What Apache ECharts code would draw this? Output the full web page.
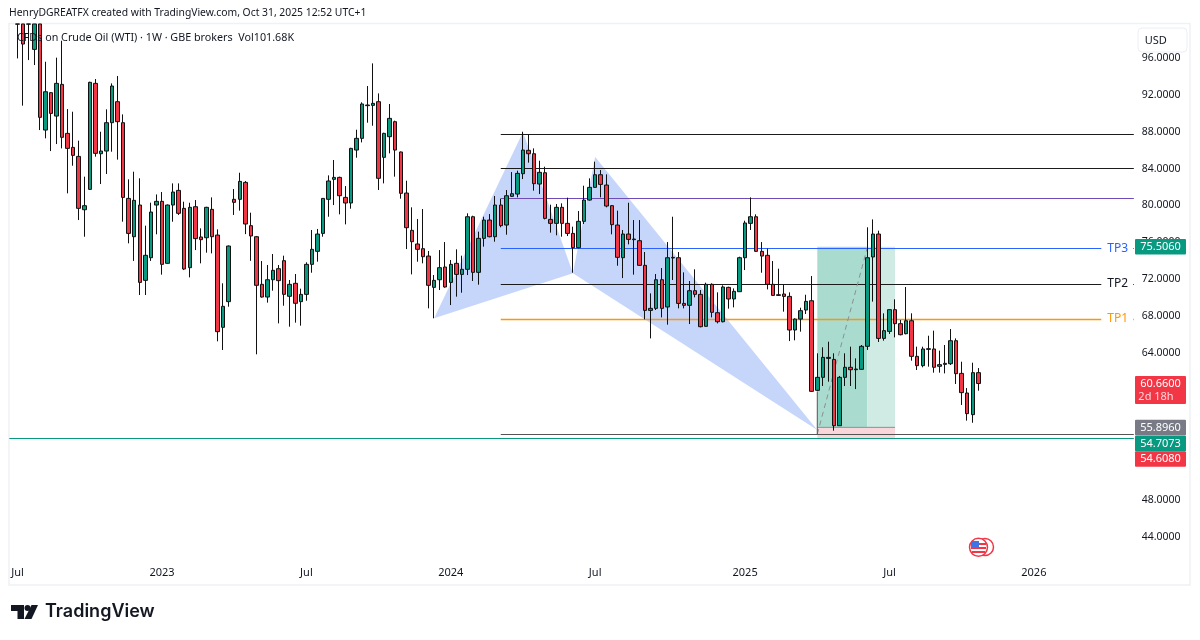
<!DOCTYPE html>
<html><head><meta charset="utf-8"><style>html,body{margin:0;padding:0;background:#fff}#c{width:1200px;height:640px}</style>
<script src="https://cdn.jsdelivr.net/npm/echarts@6/dist/echarts.min.js"></script></head><body><div id="c"></div>
<script>
const opens=[99.7,99.7,99.68,96.94,99.7,88.18,92.24,89.70,93.14,87.82,
86.30,85.32,79.53,81.74,93.25,85.61,85.90,88.98,91.26,88.98,
80.76,76.60,80.04,71.86,74.32,80.04,80.44,73.71,80.04,81.63,
79.68,73.24,79.86,76.57,76.49,79.57,76.78,66.76,69.55,80.66,
80.66,82.50,77.80,76.60,71.43,70.05,71.93,73.13,74.00,70.13,
71.54,69.55,70.34,73.60,75.01,76.96,80.66,82.83,83.04,80.87,
80.26,86.01,87.28,90.90,90.86,91.26,85.22,87.46,89.09,85.80,
81.34,77.29,75.81,75.30,74.50,71.10,71.93,73.31,71.64,73.71,
72.51,73.06,78.77,72.73,76.42,78.41,76.60,80.04,77.87,80.98,
81.23,83.44,85.98,85.61,82.32,83.55,78.48,78.05,79.79,78.05,
76.96,75.41,78.27,80.58,81.96,83.33,82.21,79.97,77.87,74.32,
76.89,76.35,76.17,73.49,68.60,68.82,71.93,68.97,74.36,74.32,
69.36,69.15,70.74,70.34,66.87,71.43,68.35,67.37,71.10,69.84,
70.63,74.32,78.05,78.77,75.01,74.58,71.43,70.30,70.38,70.12,
66.47,67.66,68.64,69.65,59.92,61.33,63.39,63.28,56.08,61.33,
62.42,62.16,62.20,64.70,74.40,76.89,65.56,66.32,68.68,67.16,
66.07,67.48,63.61,62.60,64.37,64.41,62.53,62.74,62.81,65.31,
61.76,59.63,57.28,61.84];
const highs=[99.7,99.7,99.7,99.7,99.7,95.60,92.30,96.04,97.88,90.46,
90.17,87.03,83.12,93.43,93.72,88.00,90.43,93.25,94.05,89.88,
82.83,83.66,82.94,77.80,80.29,81.19,81.45,80.10,82.39,82.39,
80.40,80.29,80.58,77.51,79.85,80.87,77.40,71.54,75.65,81.78,
83.55,82.65,79.21,76.68,73.96,73.53,74.72,73.53,74.54,71.90,
72.55,70.96,73.82,77.33,77.44,80.80,83.26,84.93,83.12,82.10,
86.25,88.22,91.19,92.96,95.42,92.16,87.89,91.01,89.20,85.85,
82.68,79.79,78.52,79.61,75.05,72.44,75.15,76.02,74.07,75.23,
74.54,79.14,78.88,77.15,78.77,79.06,81.02,80.73,81.67,83.62,
83.77,88.00,87.75,86.19,84.85,84.20,80.08,80.15,80.22,80.84,
77.69,79.39,82.14,82.94,84.75,83.84,83.37,80.04,79.43,77.33,
80.29,78.41,78.41,74.94,70.45,72.55,73.20,76.02,78.77,74.94,
72.73,71.79,73.06,70.81,71.61,71.54,70.56,71.32,71.17,70.99,
74.43,78.34,80.87,79.03,76.02,75.30,73.96,73.13,71.36,70.56,
67.74,68.89,70.30,72.33,63.94,64.59,65.20,63.94,61.48,63.94,
64.66,63.39,64.84,77.62,78.48,77.25,68.28,68.71,69.80,67.56,
71.14,68.28,64.66,64.66,65.85,66.40,64.23,64.84,66.58,65.56,
63.03,60.17,62.92,62.34];
const lows=[95.96,90.83,95.78,95.24,88.18,87.28,85.90,86.66,86.19,81.31,
84.31,78.41,76.60,81.67,85.29,82.32,83.41,85.83,84.97,78.23,
75.88,73.97,70.27,70.27,73.97,76.86,72.48,73.65,78.23,78.96,
72.98,72.19,75.15,73.71,74.87,74.79,65.24,64.30,69.00,78.96,
79.43,76.88,73.98,63.83,69.98,69.44,70.74,67.19,69.11,66.83,
67.27,66.94,69.65,72.69,73.89,76.60,78.77,80.04,79.03,77.94,
79.64,85.18,86.84,88.98,88.65,81.67,82.39,85.65,83.12,80.73,
75.26,72.51,73.89,73.71,68.82,67.74,70.81,71.07,69.18,70.09,
70.52,72.44,71.79,71.39,75.52,76.53,76.06,77.62,76.82,80.91,
80.87,82.86,84.64,81.60,81.23,78.48,77.04,76.75,76.60,76.67,
72.69,75.34,77.98,80.51,81.89,80.87,79.79,76.86,73.45,72.11,
75.77,72.48,73.42,67.63,65.56,68.64,67.84,67.05,71.90,68.82,
68.82,67.12,70.02,66.76,66.83,67.84,67.19,67.30,68.79,68.93,
70.60,72.98,77.33,74.94,72.69,70.88,70.16,70.16,68.46,65.27,
65.35,66.29,68.21,59.74,59.85,60.39,60.86,55.54,56.05,60.39,
60.39,60.06,62.13,64.30,69.55,65.17,65.31,66.04,65.67,65.89,
66.00,63.14,62.13,62.42,62.49,61.84,61.84,61.76,62.67,60.61,
58.33,56.63,56.40,59.88];
const closes=[99.68,97.52,99.7,99.7,89.56,92.34,89.99,93.25,87.39,86.19,
85.43,79.68,79.97,93.36,85.65,85.90,88.98,92.96,89.09,80.87,
76.96,80.55,71.64,74.58,79.28,80.44,73.60,80.04,81.45,79.14,
73.09,79.79,76.39,76.28,79.79,76.60,66.29,69.04,75.59,80.33,
82.61,77.98,76.68,71.32,70.05,71.93,72.95,71.83,70.34,71.43,
69.37,70.34,73.60,75.23,76.89,80.76,82.65,83.04,81.05,80.26,
86.19,87.28,91.01,90.83,91.08,82.94,87.82,89.45,86.01,81.31,
77.58,76.06,75.23,74.43,71.32,71.86,73.24,71.14,73.60,72.51,
73.06,78.77,72.73,76.42,78.41,76.60,80.04,77.80,81.05,81.27,
83.48,86.01,85.61,82.36,83.59,78.59,78.05,79.79,78.05,76.96,
75.41,78.27,80.58,81.96,83.33,82.28,79.93,77.91,74.36,76.89,
76.31,76.28,73.49,68.60,68.82,71.93,68.82,74.32,74.29,69.36,
69.15,70.74,70.34,66.83,71.43,68.39,67.37,71.14,69.84,70.67,
74.32,78.09,78.77,75.01,74.50,71.43,70.23,70.23,70.12,66.47,
67.66,68.57,69.58,59.81,61.33,63.50,63.50,56.08,61.33,62.42,
62.16,62.23,64.70,74.32,76.89,65.56,66.40,68.68,67.16,65.96,
67.48,63.61,62.60,64.41,64.44,62.42,62.71,62.85,65.31,61.73,
59.67,57.39,61.84,60.66];

const slotCount=203, firstCandleSlot=1;
const tickSlots=[1,27,53,79,105,132,158,184];
const tickNames=['Jul','2023','Jul','2024','Jul','2025','Jul','2026'];

const patternSlots=[[76,92,101],[101,105,145]];
const patternPrices=[[67.74,87.98,72.62],[72.62,85.25,55.6]];

const levelPrices=[87.78,84.02,80.83,75.33,71.46,67.66,55.17,54.71];
const levelStarts=[88,88,88,88,88,88,88,0];
const levelColors=['#1b1b1b','#1b1b1b','#6f4bb8','#2962ff','#1b1b1b','#ff9800','#555555','#089981'];
const levelEnd=202;

const tpNames=['TP3','TP2','TP1'];
const tpPrices=[75.33,71.46,67.66];
const tpColors=['#2962ff','#131722','#ff9800'];
const tpSlot=199;

const boxStart=[145,154,145];
const boxEnd=[154,159,159];
const boxLow=[55.9,55.9,54.61];
const boxHigh=[75.51,75.51,55.9];
const boxFill=['#a9dbcf','#cfebe4','#f9d6d9'];
const entryPrice=55.9;
const tradeLineSlots=[145,154];
const tradeLinePrices=[55.17,75.4];
const tradeStemTop=59.8;

const badgeTexts=['75.5060','55.8960','54.7073','54.6080'];
const badgeFills=['#089981','#787b86','#089981','#f23645'];
const badgeCentres=[246.7,427.6,443.5,459];

const categories=Array.from({length:slotCount},(_,i)=>{const k=tickSlots.indexOf(i);return k>=0?tickNames[k]:'s'+i;});
const candleRows=categories.map((_,i)=>{const k=i-firstCandleSlot;return k>=0&&k<opens.length?[opens[k],closes[k],lows[k],highs[k]]:['-','-','-','-'];});
const UI='"Noto Sans",sans-serif';

function txt(text,x,y,fs,fill,extra){return {type:'text',z:100,style:Object.assign({text,x,y,fill,font:fs+'px '+UI,verticalAlign:'middle'},extra||{})};}
const gfx=[
 {type:'rect',z:1,silent:true,shape:{x:9,y:23.5,width:1181,height:561.5},style:{fill:'none',stroke:'#eff1f5',lineWidth:1.5}},
 txt('HenryDGREATFX created with TradingView.com, Oct 31, 2025 12:52 UTC+1',9,13,10.35,'#131722'),
 txt('CFDs on Crude Oil (WTI) · 1W · GBE brokers  Vol101.68K',17,38,10.75,'#131722'),
 {type:'rect',z:100,shape:{x:1138,y:28,width:49,height:24,r:4},style:{fill:'#fff',stroke:'#eceef3',lineWidth:1}},
 txt('USD',1155.7,41,11,'#131722',{align:'center'}),
 {type:'rect',z:100,shape:{x:1135,y:376,width:51,height:28,r:1},style:{fill:'#f23645'}},
 txt('60.6600',1160.5,384,11,'#ffffff',{align:'center'}),
 txt('2d 18h',1156,396.5,11,'#ffd5d9',{align:'center'}),
 {type:'polygon',z:100,shape:{points:[[11,605],[24,605],[24,619],[17.5,619],[17.5,611],[11,611]]},style:{fill:'#131722'}},
 {type:'circle',z:100,shape:{cx:27.5,cy:608,r:3},style:{fill:'#131722'}},
 {type:'polygon',z:100,shape:{points:[[31.5,605],[38,605],[31.5,619],[24.5,619]]},style:{fill:'#131722'}},
 {type:'text',z:100,style:{text:'TradingView',x:45,y:612,fill:'#131722',font:'600 18px Inter,sans-serif',verticalAlign:'middle'}},
 {type:'circle',z:100,shape:{cx:985,cy:547,r:8.5},style:{fill:'#fff',stroke:'#f23645',lineWidth:1.5}},
 {type:'circle',z:100,shape:{cx:978.5,cy:547.3,r:9},style:{fill:'#fff',stroke:'#f23645',lineWidth:1.5}},
 {type:'rect',z:101,shape:{x:971,y:543,width:15,height:2},style:{fill:'#f23645'}},
 {type:'rect',z:101,shape:{x:971,y:547,width:15,height:2},style:{fill:'#f23645'}},
 {type:'rect',z:101,shape:{x:972,y:551,width:13,height:2},style:{fill:'#f23645'}},
 {type:'rect',z:102,shape:{x:971,y:541,width:8,height:7},style:{fill:'#3f74e6'}}
];
badgeTexts.forEach((t,i)=>{
 gfx.push({type:'rect',z:100,shape:{x:1135,y:badgeCentres[i]-7.8,width:51,height:15.6,r:1},style:{fill:badgeFills[i]}});
 gfx.push(txt(t,1160.5,badgeCentres[i],11,'#fff',{align:'center'}));
});

const chart=echarts.init(document.getElementById('c'),null,{renderer:'canvas'});
chart.setOption({
 animation:false,backgroundColor:'#ffffff',
 grid:{left:9.3,width:1127.3,top:21.2,height:552.6,containLabel:false},
 xAxis:{type:'category',data:categories,boundaryGap:true,axisLine:{show:false},axisTick:{show:false},splitLine:{show:false},
  axisLabel:{interval:(i)=>tickSlots.indexOf(i)>=0,margin:-1,verticalAlign:'middle',color:'#131722',fontSize:11,fontFamily:'"Noto Sans",sans-serif',hideOverlap:false}},
 yAxis:{type:'value',position:'right',min:40,max:100,interval:4,axisLine:{show:false},axisTick:{show:false},splitLine:{show:false},
  axisLabel:{margin:24.5,align:'center',padding:[2,0,0,0],color:'#131722',fontSize:10.5,fontFamily:'"Noto Sans",sans-serif',formatter:v=>(v===40||v===100)?'':v.toFixed(4)}},
 graphic:gfx,
 series:[
 {type:'custom',z:1,clip:true,silent:true,data:patternSlots.map((_,i)=>i),renderItem:(p,api)=>{
   const pts=patternSlots[p.dataIndex].map((s,k)=>api.coord([s,patternPrices[p.dataIndex][k]]));
   return {type:'polygon',shape:{points:pts},style:{fill:'#c6d6fb'}};
 }},
 {type:'custom',z:2,clip:true,silent:true,data:boxStart.map((_,i)=>i),renderItem:(p,api)=>{
   const i=p.dataIndex,a=api.coord([boxStart[i],boxHigh[i]]),b=api.coord([boxEnd[i],boxLow[i]]);
   return {type:'rect',shape:{x:a[0],y:a[1],width:b[0]-a[0],height:b[1]-a[1]},style:{fill:boxFill[i]}};
 }},
 {type:'custom',z:3,clip:true,silent:true,data:levelPrices.map((_,i)=>i),renderItem:(p,api)=>{
   const i=p.dataIndex,a=api.coord([levelStarts[i],levelPrices[i]]),b=api.coord([levelEnd,levelPrices[i]]);
   const y=Math.round(a[1])+0.5;
   const x1=levelStarts[i]===0?p.coordSys.x:a[0];
   return {type:'line',shape:{x1:x1,y1:y,x2:b[0],y2:y},style:{stroke:levelColors[i],lineWidth:i===5?1.4:1.2}};
 }},
 {type:'custom',z:3,clip:true,silent:true,data:[0],renderItem:(p,api)=>{
   const a=api.coord([boxStart[0],entryPrice]),b=api.coord([boxEnd[1],entryPrice]);
   const c=api.coord([tradeLineSlots[0],tradeLinePrices[0]]),d=api.coord([tradeLineSlots[1],tradeLinePrices[1]]),e=api.coord([tradeLineSlots[0],tradeStemTop]);
   return {type:'group',children:[
    {type:'line',shape:{x1:a[0],y1:a[1],x2:b[0],y2:a[1]},style:{stroke:'#8a8f98',lineWidth:1}},
    {type:'line',shape:{x1:c[0],y1:c[1],x2:d[0],y2:d[1]},style:{stroke:'#8a8f98',lineWidth:1,lineDash:[5,4]}},
    {type:'line',shape:{x1:e[0],y1:e[1],x2:c[0],y2:c[1]},style:{stroke:'#555',lineWidth:1}}
   ]};
 }},
 {type:'candlestick',z:4,clip:true,silent:true,barWidth:4,data:candleRows,
  itemStyle:{color:'#089981',color0:'#f23645',borderColor:'#111111',borderColor0:'#111111',borderWidth:1}},
 {type:'custom',z:5,clip:false,silent:true,data:tpNames.map((_,i)=>i),renderItem:(p,api)=>{
   const i=p.dataIndex,a=api.coord([tpSlot,tpPrices[i]]);
   return {type:'text',style:{text:tpNames[i],x:a[0],y:a[1],align:'center',verticalAlign:'middle',fill:tpColors[i],font:'12px "Noto Sans",sans-serif',backgroundColor:'#fff',padding:[1,5,1,6]}};
 }}
 ]
});
</script></body></html>
